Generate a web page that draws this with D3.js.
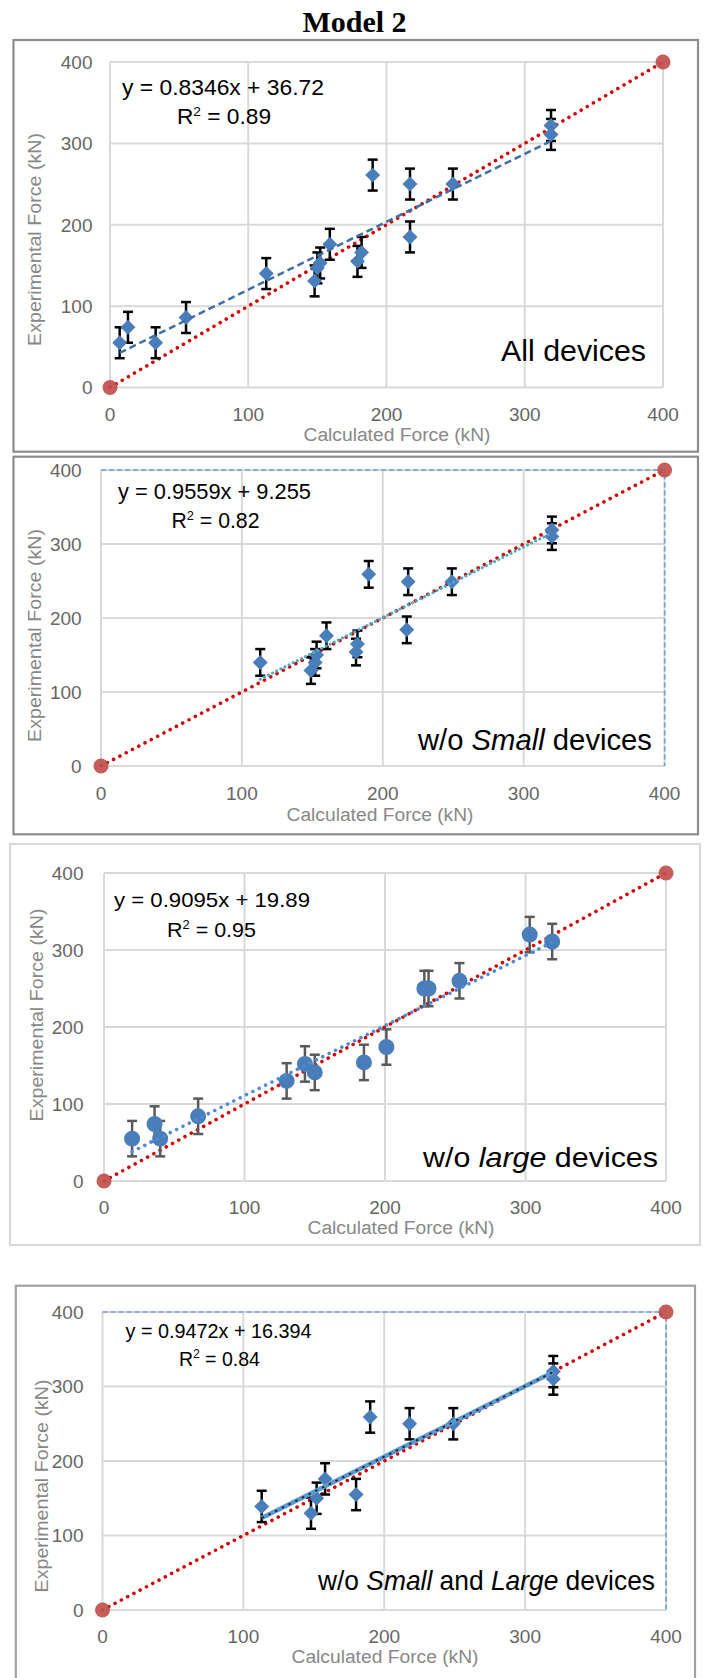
<!DOCTYPE html>
<html>
<head>
<meta charset="utf-8">
<script src="https://cdn.jsdelivr.net/npm/d3@7"></script>
<style>
body{margin:0;background:#fff}
text{font-family:"Liberation Sans",Arial,sans-serif}
</style>
</head>
<body>
<script>
var ticks=[0,100,200,300,400]
// all devices
var allX=[7,13,33,55,113,148,150,152,159,179,182,190,217,217,248,319,319]
var allY=[55,74,55,86,140,131,147,153,176,155,166,261,250,185,250,322,311]
// without small devices
var noSmallX=[113,149,152,153,160,181,182,190,218,217,249,320,320]
var noSmallY=[140,129,140,150,176,154,165,259,249,184,249,319,310]
// without large devices
var noLargeX=[20,36,40,67,130,143,150,185,201,228,231,253,303,319]
var noLargeY=[55,74,55,84,130,152,141,154,174,250,250,260,320,311]
// without small and large devices
var midX=[113,148,152,158,180,190,218,249,320,320]
var midY=[139,130,150,176,155,259,250,250,320,310]
var errors=[19,18,23,21]
var slopes=[0.8346,0.9559,0.9095,0.9472]
var intercepts=[36.72,9.255,19.89,16.394]
var equations=["y = 0.8346x + 36.72","y = 0.9559x + 9.255","y = 0.9095x + 19.89","y = 0.9472x + 16.394"]
var r2=["0.89","0.82","0.95","0.84"]
var refLine=[[0,0],[400,400]]
var labels=[
  [["All devices",false]],
  [["w/o ",false],["Small",true],[" devices",false]],
  [["w/o ",false],["large",true],[" devices",false]],
  [["w/o ",false],["Small",true],[" and ",false],["Large",true],[" devices",false]]
]
///////////////////////////////////////////////////////////////////
var panels=[
  {xs:allX,ys:allY,box:[13.5,40,698,451.7],border:"#8c8c8c",plot:[110,663,387.5,62],marker:"diamond",errColor:"#000",
   fit:[{stroke:"#3f6fa6",width:2.5,dash:"7,4",cap:"butt"}],rect:false,
   eq:[122,95,22.5,202],r2pos:[177,124,22.5,94],label:[501,360.7,29,145],tickRight:92.5,xTickY:421,xTitle:[397,441],yTitle:[34,239.5]},
  {xs:noSmallX,ys:noSmallY,box:[13.5,456.7,698,834.3],border:"#8c8c8c",plot:[101,664.6,766,470],marker:"diamond",errColor:"#000",
   fit:[{stroke:"#4bacc6",width:3,dash:"0.1,4.5",cap:"round"}],rect:true,
   eq:[118,499,22,193],r2pos:[171.5,528.3,22,88],label:[418,750,29,234],tickRight:81.7,xTickY:799.5,xTitle:[380,821],yTitle:[34,635.5]},
  {xs:noLargeX,ys:noLargeY,box:[10,844,700,1245],border:"#d9d9d9",plot:[104,666,1181,873],marker:"circle",errColor:"#595959",
   fit:[{stroke:"#4f8ad0",width:3.5,dash:"0.1,7",cap:"round"}],rect:false,
   eq:[114,906.7,21,196],r2pos:[167,936.7,21,89],label:[423,1167,28,235],tickRight:83.5,xTickY:1214,xTitle:[401,1234],yTitle:[36,1015]},
  {xs:midX,ys:midY,box:[15.8,1285.7,695,1700],border:"#a0a0a0",plot:[102.5,666,1610,1312],marker:"diamond",errColor:"#000",
   fit:[{stroke:"#5b9bd5",width:4.5,dash:null,cap:"butt"},{stroke:"#222",width:1.8,dash:"2.5,5",cap:"butt"}],rect:true,
   eq:[125.5,1338.3,20,186],r2pos:[179,1366,20,81],label:[318,1590,28,337],tickRight:83.5,xTickY:1642.5,xTitle:[385,1662.5],yTitle:[40.6,1486]}
]
///////////////////////////////////////////////////////////////////
var svg=d3.select("body")
          .append("svg")
          .attr("width",705)
          .attr("height",1678)

svg.append("text")
   .attr("x",354.5)
   .attr("y",31.7)
   .attr("text-anchor","middle")
   .style("font-family","'Liberation Serif','Times New Roman',serif")
   .style("font-weight","bold")
   .style("font-size","30px")
   .text("Model 2")

var drawPanel=function(p,i){
  var g=svg.append("g")
  g.append("rect")
   .attr("x",p.box[0])
   .attr("y",p.box[1])
   .attr("width",p.box[2]-p.box[0])
   .attr("height",p.box[3]-p.box[1])
   .attr("fill","none")
   .attr("stroke",p.border)
   .attr("stroke-width",2.2)

  var x=d3.scaleLinear().domain([0,400]).range([p.plot[0],p.plot[1]])
  var y=d3.scaleLinear().domain([0,400]).range([p.plot[2],p.plot[3]])

  // grid
  g.selectAll(".vg").data(ticks).enter().append("line")
   .attr("x1",function(d){return x(d)}).attr("x2",function(d){return x(d)})
   .attr("y1",y(0)).attr("y2",y(400))
   .attr("stroke","#d9d9d9").attr("stroke-width",2)
  g.selectAll(".hg").data(ticks).enter().append("line")
   .attr("x1",x(0)).attr("x2",x(400))
   .attr("y1",function(d){return y(d)}).attr("y2",function(d){return y(d)})
   .attr("stroke","#d9d9d9").attr("stroke-width",2)

  // tick labels
  g.selectAll(".yt").data(ticks).enter().append("text")
   .attr("x",p.tickRight)
   .attr("y",function(d){return y(d)+6.8})
   .attr("text-anchor","end")
   .attr("fill","#666")
   .style("font-size","19px")
   .text(function(d){return d})
  g.selectAll(".xt").data(ticks).enter().append("text")
   .attr("x",function(d){return x(d)})
   .attr("y",p.xTickY)
   .attr("text-anchor","middle")
   .attr("fill","#666")
   .style("font-size","19px")
   .text(function(d){return d})

  // axis titles
  g.append("text")
   .attr("x",p.xTitle[0]).attr("y",p.xTitle[1])
   .attr("text-anchor","middle")
   .attr("fill","#888")
   .style("font-size","18px")
   .attr("textLength",187)
   .attr("lengthAdjust","spacingAndGlyphs")
   .text("Calculated Force (kN)")
  g.append("text")
   .attr("transform","translate("+(p.yTitle[0]+7)+","+p.yTitle[1]+") rotate(-90)")
   .attr("text-anchor","middle")
   .attr("fill","#888")
   .style("font-size","19px")
   .attr("textLength",213)
   .attr("lengthAdjust","spacingAndGlyphs")
   .text("Experimental Force (kN)")

  // dashed 400 box
  if(p.rect){
    g.append("path")
     .attr("d","M"+x(0)+","+y(400)+"H"+x(400)+"V"+y(0))
     .attr("fill","none")
     .attr("stroke","#6f9fd8")
     .attr("stroke-width",1.6)
     .attr("stroke-dasharray","5,3")
  }

  // 1:1 line
  var line=d3.line().x(function(d){return x(d[0])}).y(function(d){return y(d[1])})
  g.append("path")
   .attr("d",line(refLine))
   .attr("fill","none")
   .attr("stroke","#d40000")
   .attr("stroke-width",3.5)
   .attr("stroke-linecap","round")
   .attr("stroke-dasharray","0.1,7")
  g.selectAll(".ref").data(refLine).enter().append("circle")
   .attr("cx",function(d){return x(d[0])})
   .attr("cy",function(d){return y(d[1])})
   .attr("r",7.5)
   .attr("fill","#c0504d")
   .attr("opacity",0.92)

  // points
  var pts=p.xs.map(function(d,j){return [d,p.ys[j]]})
  var err=errors[i]
  var eb=g.selectAll(".eb").data(pts).enter().append("g")
  eb.append("line")
    .attr("x1",function(d){return x(d[0])}).attr("x2",function(d){return x(d[0])})
    .attr("y1",function(d){return y(d[1]-err)}).attr("y2",function(d){return y(d[1]+err)})
  eb.append("line")
    .attr("x1",function(d){return x(d[0])-5}).attr("x2",function(d){return x(d[0])+5})
    .attr("y1",function(d){return y(d[1]+err)}).attr("y2",function(d){return y(d[1]+err)})
  eb.append("line")
    .attr("x1",function(d){return x(d[0])-5}).attr("x2",function(d){return x(d[0])+5})
    .attr("y1",function(d){return y(d[1]-err)}).attr("y2",function(d){return y(d[1]-err)})
  eb.selectAll("line").attr("stroke",p.errColor).attr("stroke-width",2.5)

  if(p.marker=="diamond"){
    g.selectAll(".pt").data(pts).enter().append("path")
     .attr("d",d3.symbol().type(d3.symbolSquare).size(112))
     .attr("transform",function(d){return "translate("+x(d[0])+","+y(d[1])+") rotate(45)"})
     .attr("fill","#4a7ebb")
  }
  else{
    g.selectAll(".pt").data(pts).enter().append("circle")
     .attr("cx",function(d){return x(d[0])})
     .attr("cy",function(d){return y(d[1])})
     .attr("r",8)
     .attr("fill","#4a7ebb")
  }

  // trendline
  var ext=d3.extent(p.xs)
  var fitPts=ext.map(function(d){return [d,slopes[i]*d+intercepts[i]]})
  p.fit.forEach(function(f){
    g.append("path")
     .attr("d",line(fitPts))
     .attr("fill","none")
     .attr("stroke",f.stroke)
     .attr("stroke-width",f.width)
     .attr("stroke-linecap",f.cap)
     .attr("stroke-dasharray",f.dash)
  })

  // equation
  g.append("text")
   .attr("x",p.eq[0]).attr("y",p.eq[1])
   .attr("fill","#000")
   .style("font-size",p.eq[2]+"px")
   .attr("textLength",p.eq[3])
   .attr("lengthAdjust","spacingAndGlyphs")
   .text(equations[i])
  var rt=g.append("text")
   .attr("x",p.r2pos[0]).attr("y",p.r2pos[1])
   .attr("fill","#000")
   .style("font-size",p.r2pos[2]+"px")
   .attr("textLength",p.r2pos[3])
   .attr("lengthAdjust","spacingAndGlyphs")
  rt.append("tspan").text("R")
  rt.append("tspan").attr("dy",-8).style("font-size",(p.r2pos[2]*0.6)+"px").text("2")
  rt.append("tspan").attr("dy",8).text(" = "+r2[i])

  // label
  var lt=g.append("text")
   .attr("x",p.label[0]).attr("y",p.label[1])
   .attr("fill","#000")
   .style("font-size",p.label[2]+"px")
   .attr("textLength",p.label[3])
   .attr("lengthAdjust","spacingAndGlyphs")
  labels[i].forEach(function(s){
    lt.append("tspan").style("font-style",s[1]?"italic":"normal").text(s[0])
  })
}

panels.forEach(function(p,i){drawPanel(p,i)})
</script>
</body>
</html>
